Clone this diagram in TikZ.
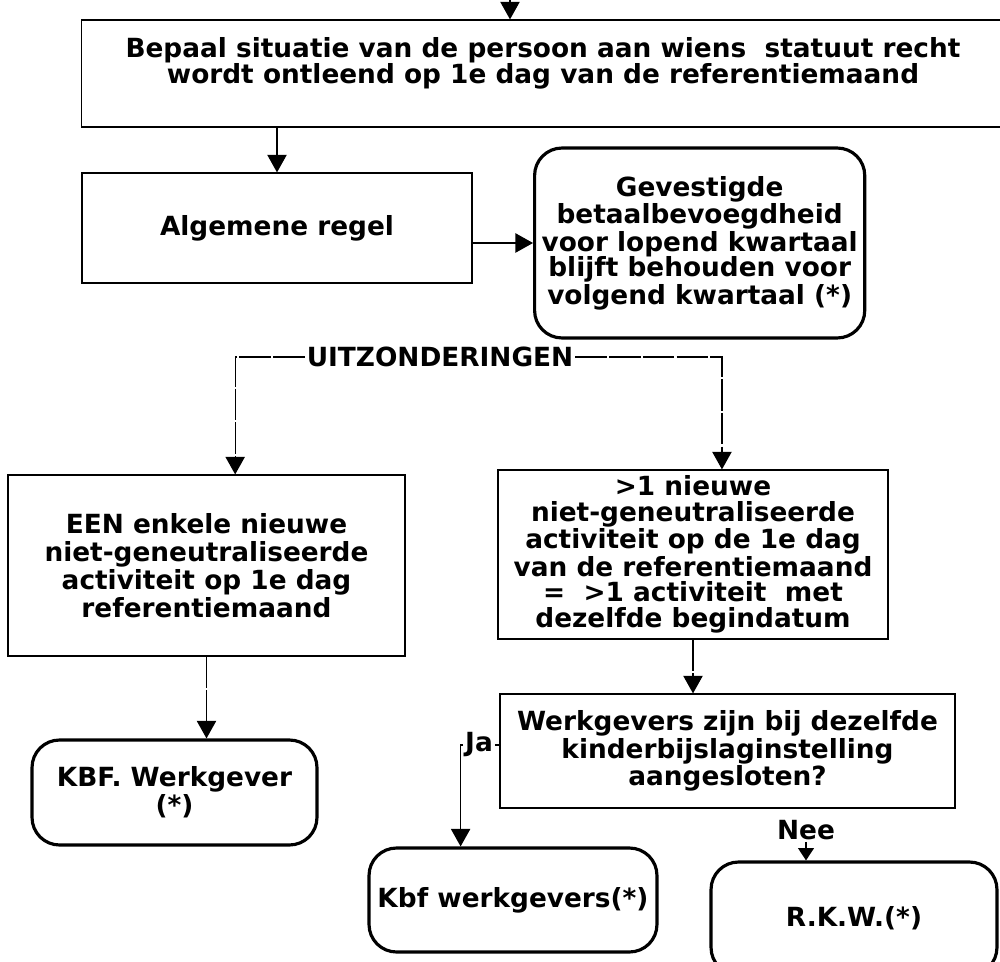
\documentclass[tikz,border=0pt]{standalone}
\usepackage{fontspec}
\setmainfont{DejaVu Sans}
\usetikzlibrary{arrows.meta,calc}

\begin{document}
\begin{tikzpicture}[x=0.02cm, y=-0.02cm,
	every node/.style = {align=center, font=\bfseries\fontsize{15}{14.6}\selectfont},
	rect/.style = {draw, line width=0.7pt, inner sep=2pt},
	rnd/.style = {draw, line width=1.8pt, rounded corners=0.55cm, inner sep=2pt},
	link/.style = {line width=0.7pt, -{Triangle[width=11pt,length=10pt]}},
	dlink/.style = {link, dash pattern=on 18pt off 1.2pt},
	lbl/.style = {inner sep=1pt}]
	\clip (0,0) rectangle (1000,962);
	\fill[white] (0,0) rectangle (1000,962);

	% boxes
	\node (situatie) [rect, minimum width=18.46cm, minimum height=2.14cm] at (543,73.5)
		{Bepaal situatie van de persoon aan wiens~ statuut recht\\wordt ontleend op 1e dag van de referentiemaand\\ \mbox{}};
	\node (algemeen) [rect, minimum width=7.8cm, minimum height=2.2cm] at (277,228) {Algemene regel};
	\node (gevestigd) [rnd, anchor=west, minimum height=3.8cm, inner xsep=4pt] at (533,243)
		{Gevestigde\\betaalbevoegdheid\\voor lopend kwartaal\\blijft behouden voor\\volgend kwartaal (*)};
	\node (uitz) [lbl] at (440,357) {UITZONDERINGEN};
	\node (een) [rect, minimum width=7.94cm, minimum height=3.62cm, font=\bfseries\fontsize{15}{16}\selectfont] at (206.5,565.5)
		{EEN enkele nieuwe\\niet-geneutraliseerde\\activiteit op 1e dag\\referentiemaand};
	\node (meer) [rect, minimum width=7.8cm, minimum height=3.38cm] at (693,554.5)
		{>1 nieuwe\\niet-geneutraliseerde\\activiteit op de 1e dag\\van de referentiemaand\\=~ >1 activiteit~ met\\dezelfde begindatum};
	\node (werk) [rect, minimum width=9.1cm, minimum height=2.28cm] at (727.5,751)
		{Werkgevers zijn bij dezelfde\\kinderbijslaginstelling\\aangesloten?};
	\node (ja) [lbl] at (479,745) {Ja};
	\node (kbf) [rnd, minimum width=5.7cm, minimum height=2.1cm, font=\bfseries\fontsize{15}{16}\selectfont] at (174.5,792.5)
		{KBF. Werkgever\\(*)};
	\node (kbfw) [rnd, minimum width=5.76cm, minimum height=2.08cm] at (513,900) {Kbf werkgevers(*)};
	\node (nee) [lbl] at (806,830) {Nee};
	\node (rkw) [rnd, minimum width=5.72cm, minimum height=2.26cm] at (854,918.5) {R.K.W.(*)};

	% connectors
	\coordinate (start) at (510,0);
	\coordinate (uitzl) at ($(een.north west)!.572!(een.north east)$);
	\coordinate (uitzr) at ($(meer.north west)!.574!(meer.north east)$);
	\coordinate (jaend) at ($(kbfw.north west)!.32!(kbfw.north east)$);
	\draw[link] (start) -- (start |- situatie.north);
	\draw[dlink] (algemeen.north |- situatie.south) -- (algemeen.north);
	\draw[link] (algemeen.east |- gevestigd.west) -- (gevestigd.west);
	\draw[dlink] (uitz.west) -| (uitzl);
	\draw[dlink] (uitz.east) -| (uitzr);
	\draw[dlink] (een.south) -- (een.south |- kbf.north);
	\draw[dlink] (meer.south) -- (meer.south |- werk.north);
	\draw[line width=0.7pt] (ja.east) -- (ja.east -| werk.west);
	\draw[link] (ja.west) -| (jaend);
	\draw[line width=0.7pt, -{Triangle[width=9pt,length=7pt]}] (nee.south) -- (nee.south |- rkw.north);
\end{tikzpicture}
\end{document}
